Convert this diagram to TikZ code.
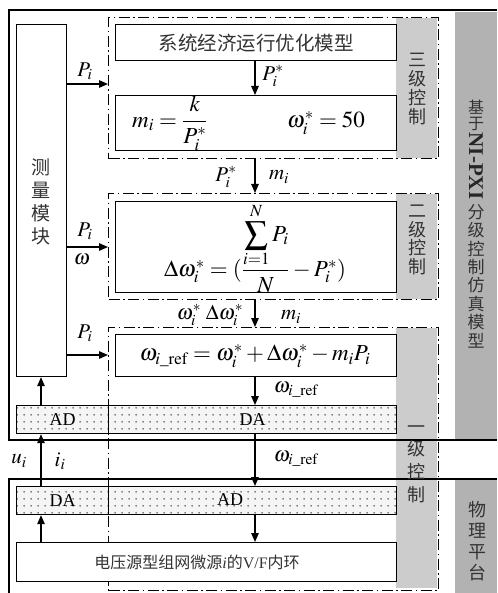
\documentclass[tikz,border=0pt]{standalone}
\usepackage{amsmath}
\usepackage{mathptmx}
\usepackage[no-math]{fontspec}
\setmainfont{Liberation Serif}
\newfontfamily\cjk{Noto Sans CJK SC}
\usetikzlibrary{arrows.meta,patterns}
\pgfdeclarepatternformonly{sparsedots}{\pgfqpoint{0pt}{0pt}}{\pgfqpoint{7pt}{7pt}}{\pgfqpoint{7pt}{7pt}}{\pgfpathcircle{\pgfqpoint{3.5pt}{3.5pt}}{1pt}\pgfusepath{fill}}
\begin{document}
\begin{tikzpicture}[x=1pt,y=-1pt,
  box/.style={draw, line width=1.2pt, fill=white, inner sep=0pt, anchor=north west},
  dbox/.style={draw, line width=1.2pt, dash pattern=on 11pt off 3.5pt on 1.5pt off 3.5pt, inner sep=0pt, anchor=north west},
  strip/.style={draw, line width=1.2pt, inner sep=0pt, anchor=north west, preaction={fill=black!4}, pattern=sparsedots, pattern color=black!65, font=\fontsize{18}{20}\selectfont},
  arr/.style={line width=1.2pt, -{Triangle[length=9pt,width=7.5pt]}},
  lab/.style={font=\fontsize{21}{23}\selectfont, inner sep=0pt},
  eq/.style={font=\fontsize{23}{27}\selectfont, inner sep=0pt},
  frame/.style={line width=1.2pt},
  lvgray/.style={fill=black!20},
  rgray/.style={fill=black!30},
  cjktext/.style={text=black!80, inner sep=0pt}
]
\useasboundingbox (0,0) rectangle (497,593);

% gray backgrounds
\fill[rgray] (455,12) rectangle (497,439);
\fill[rgray] (455,480) rectangle (497,593);
\fill[lvgray] (396,18) rectangle (437,158);
\fill[lvgray] (396,194) rectangle (437,299);
\fill[lvgray] (396,328) rectangle (437,588);

% outer frames
\draw[frame] (497,10) -- (9,10) -- (9,440) -- (497,440);
\draw[frame] (497,479) -- (9,479) -- (9,593);

% dash-dot level boxes
\node[dbox, minimum width=330pt, minimum height=141pt] (L3) at (108,17) {};
\node[dbox, minimum width=330pt, minimum height=106pt] (L2) at (108,193) {};
\node[dbox, minimum width=330pt, minimum height=263pt] (L1) at (108,327) {};

% boxes
\node[box, minimum width=50pt, minimum height=352pt] (meas) at (16,24) {};
\node[cjktext, align=center, font=\cjk\fontsize{19}{23}\selectfont] (meastxt) at (41,202) {测\\量\\模\\块};

\node[box, minimum width=281pt, minimum height=36pt, font=\cjk\fontsize{19.5}{22}\selectfont, text=black!80] (sys) at (115,24) {系统经济运行优化模型};

\node[box, minimum width=281pt, minimum height=55pt] (mbox) at (115,95) {};
\node[eq, anchor=west] (mform) at ([xshift=17pt]mbox.west) {$m_i=\dfrac{k}{P_i^{*}}$};
\node[eq, anchor=west] (wform) at ([xshift=172pt]mbox.west) {$\omega_i^{*}=50$};

\node[box, minimum width=281pt, minimum height=91pt] (l2box) at (115,201) {};
\node[eq] (l2form) at (255,248) {$\Delta\omega_i^{*}=(\dfrac{\displaystyle\sum_{i=1}^{N}P_i}{N}-P_i^{*})$};

\node[box, minimum width=281pt, minimum height=42pt] (l1box) at (115,334) {};
\node[eq] (l1form) at (255,356) {$\omega_{i\_\mathrm{ref}}=\omega_i^{*}+\Delta\omega_i^{*}-m_iP_i$};

% AD/DA strips
\node[strip, minimum width=92pt, minimum height=28pt] (adU) at (16,405) {AD};
\node[strip, minimum width=288pt, minimum height=28pt] (daU) at (108,405) {DA};
\node[strip, minimum width=92pt, minimum height=28pt] (daL) at (16,486) {DA};
\node[strip, minimum width=288pt, minimum height=28pt] (adL) at (108,486) {};
\node[font=\fontsize{18}{20}\selectfont, inner sep=0pt] (adLtxt) at (230,500) {AD};

\node[box, minimum width=380pt, minimum height=39pt] (vf) at (16,542) {};
\node[cjktext, font=\fontsize{16}{18}\selectfont] (vftxt) at (197,562) {{\cjk 电压源型组网微源}\textit{i}{\cjk 的}V/F{\cjk 内环}};

% level labels
\node[cjktext, align=center, font=\cjk\fontsize{18}{19.3}\selectfont] (t3) at (417,89) {三\\级\\控\\制};
\node[cjktext, align=center, font=\cjk\fontsize{18}{18.7}\selectfont] (t2) at (417,240) {二\\级\\控\\制};
\node[cjktext, align=center, font=\cjk\fontsize{18}{22.7}\selectfont] (t1) at (416,464) {一\\级\\控\\制};
\node[cjktext, align=center, font=\cjk\fontsize{16}{16}\selectfont] (rA) at (476,115) {基\\于};
\node[inner sep=0pt, rotate=-90, font=\bfseries\fontsize{21}{23}\selectfont, text=black!85] (rB) at (476,166) {NI-PXI};
\node[cjktext, align=center, font=\cjk\fontsize{17}{18.4}\selectfont] (rC) at (476,276) {分\\级\\控\\制\\仿\\真\\模\\型};
\node[cjktext, align=center, font=\cjk\fontsize{18}{21}\selectfont] (rD) at (477,541) {物\\理\\平\\台};

% helper coordinates
\coordinate (xM) at (255,0);
\coordinate (xL) at (41,0);
\coordinate (yA) at (0,84);
\coordinate (yB) at (0,247);
\coordinate (yC) at (0,355);

% arrows
\draw[arr] (meas.east |- yA) -- (L3.west |- yA);
\draw[arr] (sys.south -| xM) -- (mbox.north -| xM);
\draw[arr] (L3.south -| xM) -- (L2.north -| xM);
\draw[arr] (meas.east |- yB) -- (L2.west |- yB);
\draw[arr] (L2.south -| xM) -- (L1.north -| xM);
\draw[arr] (meas.east |- yC) -- (L1.west |- yC);
\draw[arr] (l1box.south -| xM) -- (daU.north -| xM);
\draw[arr] (adU.north -| xL) -- (meas.south -| xL);
\draw[arr] (daL.north -| xL) -- (adU.south -| xL);
\draw[arr] (daU.south -| xM) -- (adL.north -| xM);
\draw[arr] (vf.north -| xL) -- (daL.south -| xL);
\draw[arr] (adL.south -| xM) -- (vf.north -| xM);

% arrow labels
\node[lab] (lPa) at (85,71) {$P_i$};
\node[lab] (lPs1) at (273,76) {$P_i^{*}$};
\node[lab] (lPs2) at (226,177) {$P_i^{*}$};
\node[lab] (lm1) at (279,177) {$m_i$};
\node[lab] (lPb) at (85,231) {$P_i$};
\node[lab] (lw) at (82,259) {$\omega$};
\node[lab] (lws) at (210,315) {$\omega_i^{*}\;\Delta\omega_i^{*}$};
\node[lab] (lm2) at (291,317) {$m_i$};
\node[lab] (lPc) at (85,333) {$P_i$};
\node[lab] (lwr1) at (296,390) {$\omega_{i\_\mathrm{ref}}$};
\node[lab] (lwr2) at (296,459) {$\omega_{i\_\mathrm{ref}}$};
\node[lab] (lu) at (19,461) {$u_i$};
\node[lab] (li) at (60,461) {$i_i$};
\end{tikzpicture}
\end{document}
